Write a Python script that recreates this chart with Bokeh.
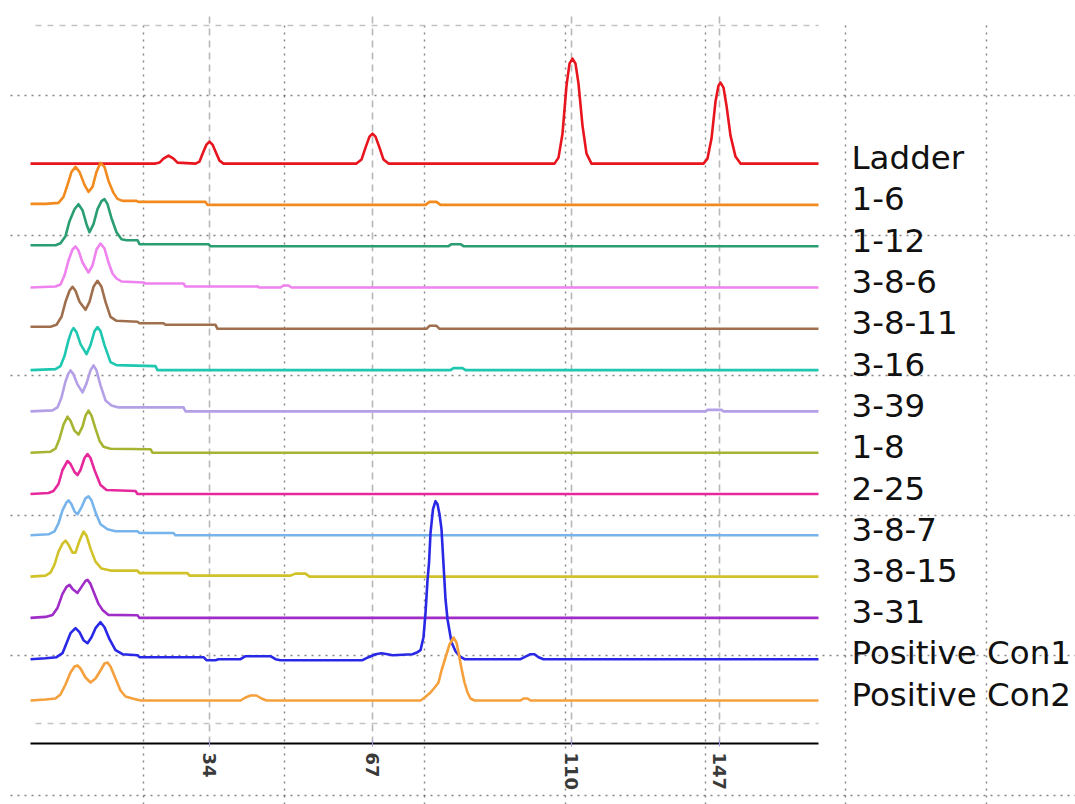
from bokeh.plotting import figure
from bokeh.models import Range1d, LinearAxis, FixedTicker, ColumnDataSource
from bokeh.core.properties import value
from bokeh.embed import file_html
from bokeh.resources import INLINE

# ---- data: capillary electrophoresis traces (scan number, RFU above lane baseline) ----
LANE_NAMES = ["Ladder", "1-6", "1-12", "3-8-6", "3-8-11", "3-16", "3-39", "1-8",
              "2-25", "3-8-7", "3-8-15", "3-31", "Positive Con1", "Positive Con2"]

# ladder peaks (scan) and their fragment sizes (bp)
LADDER_SCANS = [209, 372, 571, 719]
LADDER_SIZES = ["34", "67", "110", "147"]

LADDER = [(30, 0), (155, 0), (159, 1), (163, 5), (168, 8), (173, 5), (177, 1), (195, 0), (199, 2),
          (203, 12), (206, 19), (209, 22), (212, 19), (215, 12), (219, 3), (223, 0), (356, 0),
          (361, 4), (365, 16), (369, 27), (372, 30), (375, 27), (379, 16), (383, 4), (388, 0),
          (554, 0), (558, 6), (562, 30), (566, 78), (569, 100), (572, 105), (575, 100), (578, 80),
          (582, 38), (586, 10), (591, 0), (703, 0), (707, 5), (711, 25), (715, 62), (718, 78),
          (720, 81), (723, 76), (726, 58), (730, 28), (735, 7), (740, 0), (818, 0)]
S_1_6 = [(30, 1), (45, 1), (58, 2), (63, 8), (67, 20), (71, 33), (75, 38), (79, 33), (84, 20),
         (88, 13), (92, 18), (96, 33), (100, 42), (104, 38), (108, 24), (113, 12), (117, 6),
         (122, 4), (136, 4), (138, 3), (205, 3), (207, 0), (425, 0), (429, 3), (436, 3), (440, 0),
         (818, 0)]
S_1_12 = [(30, 1), (55, 1), (60, 3), (65, 10), (69, 25), (74, 37), (78, 42), (82, 36), (86, 22),
          (89, 14), (93, 22), (97, 37), (101, 45), (104, 47), (107, 42), (111, 28), (116, 14),
          (121, 7), (126, 6), (137, 6), (139, 2), (208, 2), (210, 0), (448, 0), (451, 2), (460, 2),
          (463, 0), (818, 0)]
S_3_8_6 = [(30, 0), (55, 1), (60, 3), (64, 12), (68, 27), (72, 38), (75, 41), (78, 37), (82, 25),
           (88, 15), (92, 22), (96, 38), (100, 44), (104, 39), (108, 25), (112, 14), (116, 9),
           (121, 6), (143, 5), (145, 4), (183, 4), (185, 1), (257, 1), (259, 0), (280, 0), (283, 2),
           (288, 2), (291, 0), (818, 0)]
S_3_8_11 = [(30, 2), (50, 2), (56, 4), (61, 12), (65, 27), (69, 38), (72, 42), (75, 38), (79, 27),
            (85, 19), (89, 27), (93, 42), (97, 48), (101, 42), (105, 27), (110, 12), (116, 8),
            (137, 7), (139, 5.5), (163, 5.5), (165, 4), (215, 4), (217, 0), (426, 0), (429, 3),
            (436, 3), (439, 0), (818, 0)]
S_3_16 = [(30, 0), (55, 1), (60, 4), (64, 14), (68, 30), (71, 39), (73, 42), (76, 38), (80, 26),
          (86, 16), (90, 25), (94, 39), (97, 43), (100, 39), (104, 25), (110, 8), (116, 5),
          (155, 4), (157, 0), (450, 0), (453, 2), (462, 2), (465, 0), (818, 0)]
S_3_39 = [(30, 0), (52, 1), (57, 4), (61, 14), (65, 30), (68, 38), (70, 41), (73, 37), (77, 27),
          (82, 19), (86, 28), (90, 41), (93, 46), (96, 41), (100, 26), (105, 11), (111, 6),
          (118, 4), (183, 4), (185, 0), (705, 0), (707, 1.5), (721, 1.5), (723, 0), (818, 0)]
S_1_8 = [(30, 0), (50, 1), (55, 4), (59, 14), (63, 28), (67, 36), (70, 32), (74, 22), (78, 18),
         (82, 26), (85, 37), (88, 42), (91, 37), (95, 24), (99, 12), (103, 6), (110, 4),
         (150, 3.5), (152, 0), (818, 0)]
S_2_25 = [(30, 0), (48, 1), (53, 3), (58, 10), (62, 24), (67, 33), (70, 30), (74, 22), (77, 19),
          (80, 24), (84, 36), (87, 40), (90, 36), (94, 24), (100, 9), (106, 4), (135, 3),
          (137, 0), (818, 0)]
S_3_8_7 = [(30, 0), (48, 1), (54, 4), (58, 12), (62, 25), (66, 33), (68, 35), (71, 31), (74, 24),
           (77, 21), (81, 28), (85, 37), (88, 39), (91, 35), (95, 23), (100, 11), (107, 6),
           (115, 4), (137, 4), (139, 2.3), (173, 2.3), (175, 0), (818, 0)]
S_3_8_15 = [(30, 0), (45, 1), (50, 4), (54, 12), (58, 25), (62, 33), (65, 36), (68, 32), (72, 24),
            (75, 24), (79, 36), (83, 45), (86, 41), (90, 28), (95, 15), (101, 8), (110, 6),
            (137, 6), (139, 3.5), (187, 3.5), (189, 1), (290, 1), (295, 3), (305, 3), (309, 0),
            (818, 0)]
S_3_31 = [(30, 0), (45, 1), (52, 3), (57, 10), (62, 24), (66, 31), (69, 33), (72, 29), (77, 25),
          (81, 31), (85, 37), (87, 38), (90, 34), (94, 24), (98, 14), (102, 8), (108, 3),
          (137, 2.7), (139, 0), (818, 0)]
S_CON1 = [(30, 0), (45, 1), (56, 2), (62, 6), (66, 16), (70, 26), (75, 31), (79, 27), (83, 19),
          (87, 16), (91, 22), (95, 31), (100, 37), (104, 32), (109, 20), (115, 9), (122, 5),
          (137, 4), (139, 2), (203, 2), (206, -1), (215, -1), (218, 0), (240, 0), (245, 3),
          (270, 3), (275, 0), (280, -1), (362, -1), (368, 2), (375, 5), (381, 6), (387, 5),
          (392, 4), (412, 5), (417, 7), (420, 9), (423, 22), (425, 46), (427, 79), (428.5, 96),
          (430, 126), (432.5, 150), (435, 158), (437, 155), (439, 145), (441, 130), (443, 95),
          (445, 60), (447, 40), (451, 17), (455, 8), (459, 3), (464, 0), (520, 0), (524, 2),
          (530, 5), (534, 5), (538, 2), (543, 0), (818, 0)]
S_CON2 = [(30, 0), (45, 1), (55, 2), (60, 6), (65, 16), (70, 28), (74, 34), (77, 35), (80, 32),
          (85, 23), (90, 18), (95, 22), (100, 30), (104, 37), (107, 38), (110, 34), (115, 22),
          (120, 10), (125, 4), (132, 2), (140, 0), (240, 0), (245, 3), (250, 5), (256, 5),
          (261, 2), (266, 0), (420, 0), (423, 2), (430, 8), (435, 14), (438, 18), (441, 30),
          (445, 43), (449, 56), (453, 63), (456, 58), (458, 48), (461, 32), (464, 18), (467, 8),
          (470, 2), (474, 0), (520, 0), (523, 2), (527, 2), (530, 0), (818, 0)]

LANE_TRACES = [LADDER, S_1_6, S_1_12, S_3_8_6, S_3_8_11, S_3_16, S_3_39, S_1_8,
               S_2_25, S_3_8_7, S_3_8_15, S_3_31, S_CON1, S_CON2]

# ---- styling ----
LANE_COLORS = ["#e8141e", "#f28a1e", "#2a9e72", "#ee82ee", "#a0704e", "#1ec8b0", "#b4a0e6",
               "#a6b432", "#e6289c", "#78b4ec", "#d2c22a", "#a02cc8", "#2828e6", "#f5a03c"]
LANE_STEP = 41.3          # vertical offset between stacked lanes (RFU)
SCAN_MIN, SCAN_MAX = 30, 818
AXIS_Y = -43
GRID_TOP = 688
FRAME_ROWS = [675, -23]
PAPER_ROWS = [605, 465, 325, 185, 45, -95]
PAPER_COLS = [143, 284, 424, 565, 705, 845, 986]

p = figure(width=1075, height=804, x_range=Range1d(0, 1075), y_range=Range1d(-104, 700),
           x_axis_type=None, y_axis_type=None, toolbar_location=None, output_backend="svg",
           min_border=0, outline_line_color=None, background_fill_color="white")

# graph-paper dotted rules
p.segment(x0=[10] * len(PAPER_ROWS), y0=PAPER_ROWS, x1=[1075] * len(PAPER_ROWS), y1=PAPER_ROWS,
          line_color="#333333", line_alpha=0.6, line_width=1.4, line_dash="2 5")
p.segment(x0=PAPER_COLS, y0=[675] * len(PAPER_COLS), x1=PAPER_COLS, y1=[-104] * len(PAPER_COLS),
          line_color="#333333", line_alpha=0.6, line_width=1.4, line_dash="2 5")

# dashed reference lines at ladder sizes and frame rows
p.segment(x0=LADDER_SCANS, y0=[AXIS_Y] * len(LADDER_SCANS), x1=LADDER_SCANS,
          y1=[GRID_TOP] * len(LADDER_SCANS), line_color="#b8b8b8", line_width=1.6, line_dash="7 5")
p.segment(x0=[35] * len(FRAME_ROWS), y0=FRAME_ROWS, x1=[SCAN_MAX] * len(FRAME_ROWS), y1=FRAME_ROWS,
          line_color="#c4c4c4", line_width=1.6, line_dash="6 6")

n = len(LANE_NAMES)
baselines = [(n - 1 - i) * LANE_STEP for i in range(n)]
for name, pts, color, base in zip(LANE_NAMES, LANE_TRACES, LANE_COLORS, baselines):
    xs = [pt[0] for pt in pts]
    ys = [base + pt[1] for pt in pts]
    p.line(xs, ys, line_color=color, line_width=2.6, line_join="round")

label_src = ColumnDataSource(dict(x=[851] * n, y=[b + 6 for b in baselines], text=LANE_NAMES))
p.text(x="x", y="y", text="text", source=label_src, text_baseline="middle", text_align="left",
       text_font=value("DejaVu Sans"), text_font_size="32.5px", text_color="#111111")

axis = LinearAxis(ticker=FixedTicker(ticks=LADDER_SCANS),
                  major_label_overrides={s: lab for s, lab in zip(LADDER_SCANS, LADDER_SIZES)},
                  fixed_location=AXIS_Y, bounds=(SCAN_MIN, SCAN_MAX))
axis.axis_line_color = "black"
axis.axis_line_width = 2
axis.major_tick_in = 3
axis.major_tick_out = 3
axis.major_tick_line_color = "#9a9ae0"
axis.minor_tick_line_color = None
axis.major_label_orientation = "vertical"
axis.major_label_standoff = 6
axis.major_label_text_font = "DejaVu Sans"
axis.major_label_text_font_size = "18px"
axis.major_label_text_font_style = "bold"
axis.major_label_text_color = "#3a3a3a"
p.add_layout(axis, "below")

open("out.html", "w").write(file_html(p, INLINE))
